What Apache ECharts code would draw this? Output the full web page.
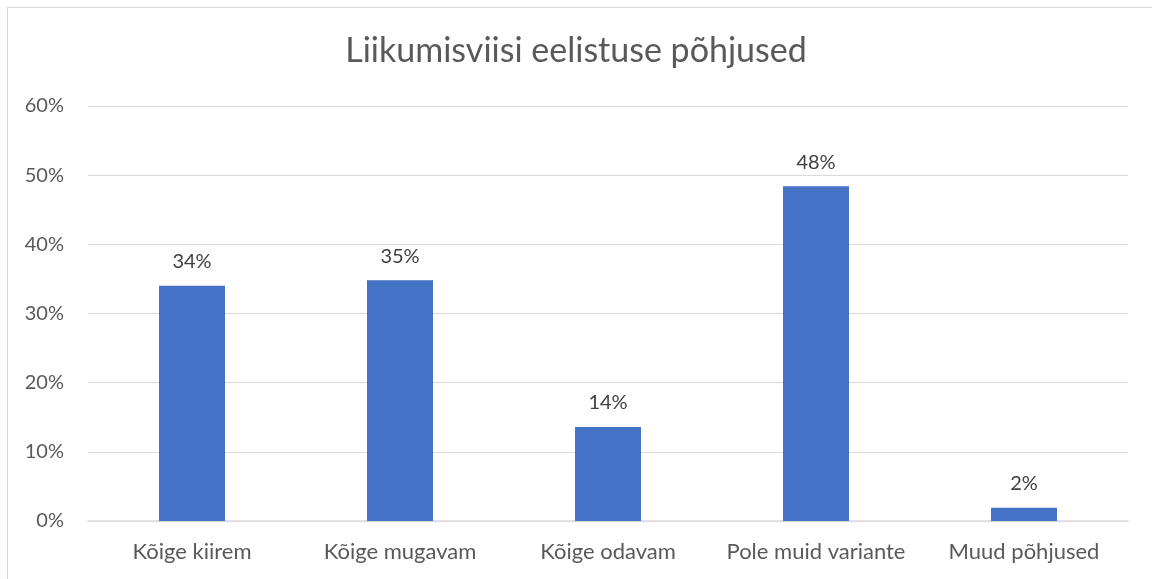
<!DOCTYPE html>
<html>
<head>
<meta charset="utf-8">
<script src="https://cdn.jsdelivr.net/npm/echarts@6/dist/echarts.min.js"></script>
<style>
  html, body { margin: 0; padding: 0; background: #fff; }
  #frame {
    position: absolute;
    left: 7px;
    top: 7px;
    width: 1160px;
    height: 590px;
    border: 1px solid #d9d9d9;
    box-sizing: border-box;
  }
  #chart { position: absolute; left: 0; top: 0; width: 1152px; height: 579px; }
</style>
</head>
<body>
<div id="frame"></div>
<div id="chart"></div>
<script>
// kategooriad ja väärtused (%)
const categories = ['Kõige kiirem', 'Kõige mugavam', 'Kõige odavam', 'Pole muid variante', 'Muud põhjused'];
const values = [34, 34.8, 13.6, 48.4, 1.9];
const yTicks = [0, 10, 20, 30, 40, 50, 60];

let myChart = echarts.init(document.getElementById('chart'));
let option = {
  animation: false,
  title: {
    text: 'Liikumisviisi eelistuse põhjused',
    left: 'center',
    top: 29,
    textStyle: {
      fontFamily: 'Lato',
      fontSize: 34,
      fontWeight: 'normal',
      color: '#595959'
    }
  },
  grid: {
    left: 88,
    right: 24,
    top: 106,
    bottom: 58
  },
  xAxis: {
    type: 'category',
    data: categories,
    axisLine: { lineStyle: { color: '#d9d9d9', width: 1.5 } },
    axisTick: { show: false },
    axisLabel: {
      interval: 0,
      color: '#595959',
      fontFamily: 'Lato',
      fontSize: 22,
      margin: 20
    }
  },
  yAxis: {
    type: 'value',
    min: yTicks[0],
    max: yTicks[yTicks.length - 1],
    interval: 10,
    axisLine: { show: false },
    axisTick: { show: false },
    splitLine: { lineStyle: { color: '#d9d9d9', width: 1 } },
    axisLabel: {
      color: '#595959',
      fontFamily: 'Lato',
      fontSize: 20,
      margin: 24,
      formatter: v => v + '%'
    }
  },
  series: [
    {
      type: 'bar',
      data: values,
      barWidth: 66,
      itemStyle: { color: '#4472C4' },
      label: {
        show: true,
        position: 'top',
        distance: 14,
        color: '#404040',
        fontFamily: 'Lato',
        fontSize: 20,
        formatter: p => Math.round(p.value) + '%'
      }
    }
  ]
};
myChart.setOption(option);
</script>
</body>
</html>
